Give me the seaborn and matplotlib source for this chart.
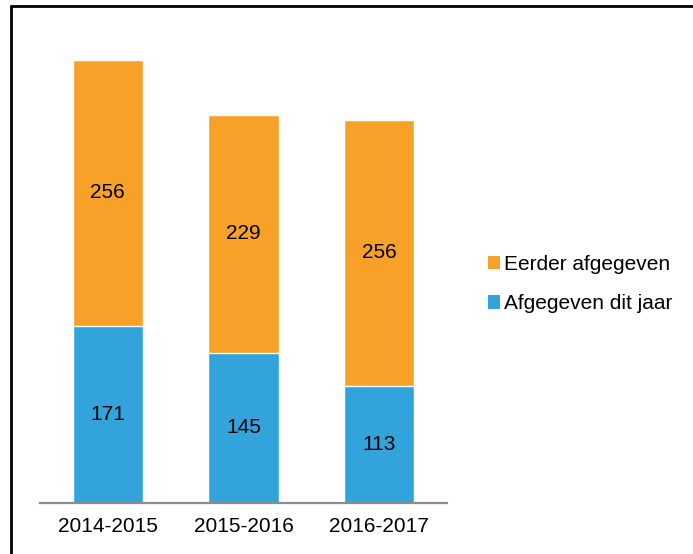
import matplotlib
matplotlib.use("Agg")
import matplotlib.pyplot as plt
from matplotlib.patches import Patch
from matplotlib.lines import Line2D
import seaborn as sns
import pandas as pd

years = ["2014-2015", "2015-2016", "2016-2017"]
afgegeven_dit_jaar = [171, 145, 113]
eerder_afgegeven = [256, 229, 256]

ORANGE = "#F8A128"
BLUE = "#33A3DB"

sns.set_theme(style="white")
plt.rcParams["font.family"] = ["Liberation Sans", "DejaVu Sans"]
plt.rcParams["text.color"] = "black"

df = pd.DataFrame({
    "jaar": years,
    "dit": afgegeven_dit_jaar,
    "eerder": eerder_afgegeven,
})
df["totaal"] = df["dit"] + df["eerder"]

FS = 15

fig = plt.figure(figsize=(6.93, 5.54), dpi=100)
ax = fig.add_axes([40 / 693, 51 / 554, 407 / 693, (503 - 36) / 554])

sns.barplot(data=df, x="jaar", y="totaal", color=ORANGE, width=0.52,
            saturation=1, ax=ax)
sns.barplot(data=df, x="jaar", y="dit", color=BLUE, width=0.52,
            saturation=1, ax=ax)

ax.set_ylim(0, 450)
ax.set_xlim(-0.5, 2.5)
ax.set_xlabel("")
ax.set_ylabel("")
ax.set_yticks([])
for s in ["top", "right", "left"]:
    ax.spines[s].set_visible(False)
ax.spines["bottom"].set_color("#8C8C8C")
ax.spines["bottom"].set_linewidth(1.6)
ax.tick_params(axis="x", length=0, labelsize=FS, pad=10, colors="black")

for i, (d, e) in enumerate(zip(afgegeven_dit_jaar, eerder_afgegeven)):
    ax.text(i, d / 2, str(d), ha="center", va="center", fontsize=FS, color="black")
    ax.text(i, d + e / 2, str(e), ha="center", va="center", fontsize=FS, color="black")

handles = [Patch(facecolor=ORANGE, edgecolor="none"),
           Patch(facecolor=BLUE, edgecolor="none")]
fig.legend(handles, ["Eerder afgegeven", "Afgegeven dit jaar"],
           loc="center left", bbox_to_anchor=(469 / 693, 1 - 284 / 554),
           frameon=False, fontsize=FS, handlelength=0.6, handleheight=0.6,
           handletextpad=0.2, labelspacing=1.0, labelcolor="black")

# figure border (top and left visible)
fig.add_artist(Line2D([11 / 693, 11 / 693], [0, 1 - 6 / 554],
                      transform=fig.transFigure, color="black", lw=2))
fig.add_artist(Line2D([11 / 693, 1], [1 - 6 / 554, 1 - 6 / 554],
                      transform=fig.transFigure, color="black", lw=2))

fig.savefig("out.png", dpi=100, facecolor="white")
